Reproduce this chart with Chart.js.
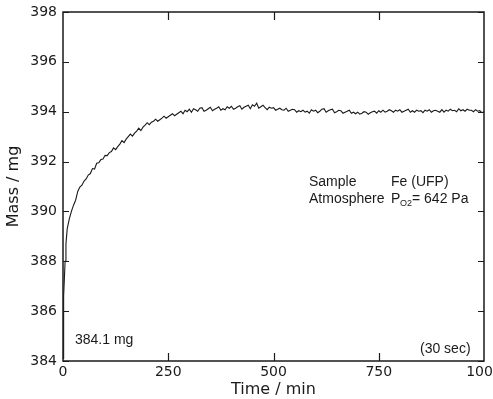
<!DOCTYPE html>
<html>
<head>
<meta charset="utf-8">
<script src="https://cdn.jsdelivr.net/npm/chart.js@4.4.0/dist/chart.umd.min.js"></script>
<style>
	html, body { margin: 0; padding: 0; background: #fff; }
	#wrap { width: 493px; height: 399px; position: relative; }
</style>
</head>
<body>
<div id="wrap"><canvas id="chart"></canvas></div>
<script>
// time (min) and mass (mg)
var timeMin = [0, 1, 2, 3, 5, 7, 10, 15, 20, 25, 30, 35,
	40, 45, 50, 55, 60, 65, 70, 75, 80, 85, 90, 95,
	100, 105, 110, 115, 120, 125, 130, 135, 140, 145, 150, 155, 160, 165, 170, 175, 180, 185, 190, 195,
	200, 205, 210, 215, 220, 225, 230, 235, 240, 245, 250, 255, 260, 265, 270, 275, 280, 285, 290, 295,
	300, 305, 310, 315, 320, 325, 330, 335, 340, 345, 350, 355, 360, 365, 370, 375, 380, 385, 390, 395,
	400, 405, 410, 415, 420, 425, 430, 435, 440, 445, 450, 455, 460, 465, 470, 475, 480, 485, 490, 495,
	500, 505, 510, 515, 520, 525, 530, 535, 540, 545, 550, 555, 560, 565, 570, 575, 580, 585, 590, 595,
	600, 605, 610, 615, 620, 625, 630, 635, 640, 645, 650, 655, 660, 665, 670, 675, 680, 685, 690, 695,
	700, 705, 710, 715, 720, 725, 730, 735, 740, 745, 750, 755, 760, 765, 770, 775, 780, 785, 790, 795,
	800, 805, 810, 815, 820, 825, 830, 835, 840, 845, 850, 855, 860, 865, 870, 875, 880, 885, 890, 895,
	900, 905, 910, 915, 920, 925, 930, 935, 940, 945, 950, 955, 960, 965, 970, 975, 980, 985, 990, 995, 1000];

var massMg = [384.10, 385.80, 386.60, 387.20, 388.00, 388.70, 389.30, 389.70, 390.00, 390.25, 390.45, 390.80,
	390.98, 391.05, 391.22, 391.30, 391.46, 391.52, 391.72, 391.70, 391.93, 391.95, 392.08, 392.10,
	392.25, 392.24, 392.36, 392.40, 392.55, 392.48, 392.60, 392.70, 392.84, 392.76, 392.90, 393.00, 393.10, 393.02, 393.14, 393.22, 393.34, 393.24, 393.38, 393.46,
	393.56, 393.48, 393.58, 393.62, 393.70, 393.62, 393.68, 393.74, 393.82, 393.74, 393.80, 393.86, 393.92, 393.84, 393.90, 393.96, 394.02, 393.92, 394.06, 394.00,
	394.10, 393.98, 394.12, 394.08, 394.02, 394.14, 394.16, 394.02, 394.06, 394.12, 394.18, 394.04, 394.10, 394.14, 394.20, 394.06, 394.12, 394.08, 394.20, 394.14,
	394.22, 394.10, 394.14, 394.20, 394.24, 394.10, 394.18, 394.22, 394.26, 394.12, 394.28, 394.22, 394.34, 394.14, 394.20, 394.26, 394.16, 394.08, 394.18, 394.14,
	394.16, 394.06, 394.10, 394.14, 394.08, 394.06, 394.14, 394.02, 394.06, 394.10, 394.08, 393.98, 394.04, 394.00, 394.06, 393.98, 394.02, 393.94, 394.08, 394.02,
	394.06, 393.96, 394.02, 394.10, 394.12, 393.98, 394.04, 394.08, 394.10, 393.96, 394.00, 394.06, 394.04, 393.94, 393.98, 394.02, 394.06, 393.94, 393.98, 393.92,
	393.98, 393.90, 393.94, 394.00, 393.98, 393.90, 393.96, 394.00, 394.02, 393.94, 394.04, 393.98, 394.06, 393.98, 394.02, 394.08, 394.04, 393.98, 394.06, 394.02,
	394.08, 393.98, 394.02, 394.06, 394.10, 393.98, 394.04, 393.98, 394.06, 394.02, 394.04, 393.96, 394.06, 394.02, 394.08, 393.98, 394.04, 394.06, 394.02, 393.98,
	394.08, 393.98, 394.06, 394.02, 394.10, 394.04, 394.06, 394.00, 394.12, 394.04, 394.08, 394.02, 394.10, 394.06, 394.06, 394.00, 394.08, 394.02, 394.04, 393.96, 394.00];

var xTicks = [0, 250, 500, 750, 1000];
var yTicks = [384, 386, 388, 390, 392, 394, 396, 398];

var points = [];
for (var i = 0; i < timeMin.length; i++) {
	points.push({x: timeMin[i], y: massMg[i]});
}

var inkColour = '#1a1a1a';
var fontName = '"DejaVu Sans", sans-serif';
var noteFont = '"Liberation Sans", Arial, sans-serif';

// frame, inward ticks and the notes written on the plot
var framePlugin = {
	id: 'frame',
	afterDraw: function(chart) {
		var ctx = chart.ctx;
		var area = chart.chartArea;
		var xs = chart.scales.x, ys = chart.scales.y;
		ctx.save();
		ctx.strokeStyle = inkColour;
		ctx.lineWidth = 1.5;
		ctx.strokeRect(area.left, area.top, area.right - area.left, area.bottom - area.top);

		ctx.lineWidth = 1.2;
		ctx.beginPath();
		yTicks.forEach(function(v) {
			var py = Math.round(ys.getPixelForValue(v)) + 0.5;
			ctx.moveTo(area.left, py); ctx.lineTo(area.left + 6, py);
			ctx.moveTo(area.right, py); ctx.lineTo(area.right - 6, py);
		});
		xTicks.slice(1, -1).forEach(function(v) {
			var px = Math.round(xs.getPixelForValue(v)) + 0.5;
			ctx.moveTo(px, area.bottom); ctx.lineTo(px, area.bottom - 8);
			ctx.moveTo(px, area.top); ctx.lineTo(px, area.top + 8);
		});
		ctx.stroke();

		ctx.fillStyle = inkColour;
		ctx.textBaseline = 'middle';
		ctx.font = '14px ' + noteFont;
		ctx.fillText('384.1 mg', 75, 340);
		ctx.fillText('(30 sec)', 420, 349);
		ctx.fillText('Sample', 309, 182);
		ctx.fillText('Fe (UFP)', 391, 182);
		ctx.fillText('Atmosphere', 309, 199);
		ctx.fillText('P', 391, 199);
		ctx.font = '9px ' + noteFont;
		ctx.fillText('O2', 400, 204);
		ctx.font = '14px ' + noteFont;
		ctx.fillText('= 642 Pa', 412, 199);
		ctx.restore();
	}
};

var ctx = document.getElementById('chart').getContext('2d');
var chart = new Chart(ctx, {
	type: 'line',
	data: {
		datasets: [{
			label: 'Mass',
			data: points,
			borderColor: inkColour,
			borderWidth: 1.1,
			pointRadius: 0,
			tension: 0,
			fill: false
		}]
	},
	options: {
		responsive: true,
		maintainAspectRatio: false,
		animation: false,
		layout: { padding: { top: 12, right: 9, left: 0, bottom: 0 } },
		plugins: {
			legend: { display: false },
			tooltip: { enabled: false }
		},
		scales: {
			x: {
				type: 'linear',
				min: 0,
				max: 1000,
				afterBuildTicks: function(scale) {
					scale.ticks = xTicks.map(function(v) { return {value: v}; });
				},
				afterFit: function(scale) {
					scale.height = 38;
					scale.paddingLeft = 0;
					scale.paddingRight = 0;
				},
				grid: { drawOnChartArea: false, drawTicks: false },
				border: { display: false },
				ticks: {
					color: inkColour,
					padding: 3,
					maxRotation: 0,
					font: { family: fontName, size: 14 },
					callback: function(v) { return String(v); }
				},
				title: {
					display: true,
					text: 'Time / min',
					color: inkColour,
					padding: 0,
					font: { family: fontName, size: 16 }
				}
			},
			y: {
				min: 384,
				max: 398,
				afterBuildTicks: function(scale) {
					scale.ticks = yTicks.map(function(v) { return {value: v}; });
				},
				afterFit: function(scale) {
					scale.width = 63;
					scale.paddingTop = 0;
					scale.paddingBottom = 0;
				},
				grid: { drawOnChartArea: false, drawTicks: false },
				border: { display: false },
				ticks: {
					color: inkColour,
					padding: 6,
					font: { family: fontName, size: 14 }
				},
				title: {
					display: true,
					text: 'Mass / mg',
					color: inkColour,
					padding: { top: 4, bottom: 0 },
					font: { family: fontName, size: 16 }
				}
			}
		}
	},
	plugins: [framePlugin]
});
</script>
</body>
</html>
